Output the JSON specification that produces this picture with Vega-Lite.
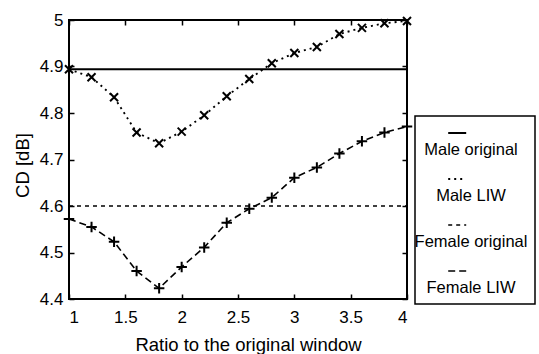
{
  "$schema": "https://vega.github.io/schema/vega-lite/v6.json",
  "width": 338,
  "height": 279,
  "autosize": {"type": "none"},
  "padding": {"left": 69, "top": 20, "right": 132, "bottom": 55},
  "background": "white",
  "config": {
    "font": "Liberation Sans",
    "view": {"stroke": "black", "strokeWidth": 2},
    "axis": {
      "grid": false,
      "domain": false,
      "tickColor": "black",
      "tickSize": -5,
      "tickWidth": 1.5,
      "labelColor": "black",
      "labelFont": "Liberation Sans",
      "labelFontSize": 17,
      "titleFont": "Liberation Sans",
      "titleFontSize": 18.5,
      "titleFontWeight": "normal",
      "titleColor": "black"
    }
  },
  "data": {
    "values": [
      {"series": "Male original", "ratio": 1.0, "cd": 4.894},
      {"series": "Male original", "ratio": 4.0, "cd": 4.894},
      {"series": "Female original", "ratio": 1.0, "cd": 4.6},
      {"series": "Female original", "ratio": 4.0, "cd": 4.6},
      {"series": "Male LIW", "ratio": 1.0, "cd": 4.894},
      {"series": "Male LIW", "ratio": 1.2, "cd": 4.877},
      {"series": "Male LIW", "ratio": 1.4, "cd": 4.834},
      {"series": "Male LIW", "ratio": 1.6, "cd": 4.758},
      {"series": "Male LIW", "ratio": 1.8, "cd": 4.735},
      {"series": "Male LIW", "ratio": 2.0, "cd": 4.760},
      {"series": "Male LIW", "ratio": 2.2, "cd": 4.795},
      {"series": "Male LIW", "ratio": 2.4, "cd": 4.836},
      {"series": "Male LIW", "ratio": 2.6, "cd": 4.873},
      {"series": "Male LIW", "ratio": 2.8, "cd": 4.907},
      {"series": "Male LIW", "ratio": 3.0, "cd": 4.929},
      {"series": "Male LIW", "ratio": 3.2, "cd": 4.942},
      {"series": "Male LIW", "ratio": 3.4, "cd": 4.970},
      {"series": "Male LIW", "ratio": 3.6, "cd": 4.983},
      {"series": "Male LIW", "ratio": 3.8, "cd": 4.993},
      {"series": "Male LIW", "ratio": 4.0, "cd": 4.998},
      {"series": "Female LIW", "ratio": 1.0, "cd": 4.572},
      {"series": "Female LIW", "ratio": 1.2, "cd": 4.555},
      {"series": "Female LIW", "ratio": 1.4, "cd": 4.523},
      {"series": "Female LIW", "ratio": 1.6, "cd": 4.460},
      {"series": "Female LIW", "ratio": 1.8, "cd": 4.423},
      {"series": "Female LIW", "ratio": 2.0, "cd": 4.469},
      {"series": "Female LIW", "ratio": 2.2, "cd": 4.511},
      {"series": "Female LIW", "ratio": 2.4, "cd": 4.564},
      {"series": "Female LIW", "ratio": 2.6, "cd": 4.594},
      {"series": "Female LIW", "ratio": 2.8, "cd": 4.618},
      {"series": "Female LIW", "ratio": 3.0, "cd": 4.661},
      {"series": "Female LIW", "ratio": 3.2, "cd": 4.683},
      {"series": "Female LIW", "ratio": 3.4, "cd": 4.713},
      {"series": "Female LIW", "ratio": 3.6, "cd": 4.739},
      {"series": "Female LIW", "ratio": 3.8, "cd": 4.758},
      {"series": "Female LIW", "ratio": 4.0, "cd": 4.771}
    ]
  },
  "layer": [
    {
      "mark": {"type": "line", "color": "black"},
      "encoding": {
        "x": {
          "field": "ratio",
          "type": "quantitative",
          "scale": {"domain": [1, 4], "nice": false, "zero": false},
          "axis": {
            "orient": "bottom",
            "values": [1, 1.5, 2, 2.5, 3, 3.5, 4],
            "format": "~g",
            "labelPadding": 15,
            "title": "Ratio to the original window",
            "titlePadding": 10,
            "titleX": 179
          }
        },
        "y": {
          "field": "cd",
          "type": "quantitative",
          "scale": {"domain": [4.4, 5], "nice": false, "zero": false},
          "axis": {
            "orient": "left",
            "values": [4.4, 4.5, 4.6, 4.7, 4.8, 4.9, 5],
            "format": "~g",
            "labelPadding": 11,
            "title": "CD [dB]",
            "titlePadding": 7,
            "titleY": 145
          }
        },
        "strokeDash": {
          "field": "series",
          "type": "nominal",
          "scale": {
            "domain": ["Male original", "Male LIW", "Female original", "Female LIW"],
            "range": [[1, 0], [2, 4], [4, 4], [7, 4]]
          },
          "legend": {
            "orient": "none",
            "legendX": 346,
            "legendY": 96,
            "title": null,
            "strokeColor": "black",
            "padding": 7,
            "symbolType": "M1.8,0H3.8",
            "symbolSize": 324,
            "symbolStrokeWidth": 1.8,
            "symbolStrokeColor": "black",
            "labelFont": "Liberation Sans",
            "labelFontSize": 16.5,
            "labelColor": "black",
            "labelAlign": "center",
            "labelOffset": 0,
            "rowPadding": 10,
            "encoding": {
              "labels": {
                "dy": {"value": 17},
                "dx": {"value": 29}
              },
              "legend": {
                "strokeWidth": {"value": 1.5}
              }
            }
          }
        },
        "strokeWidth": {
          "field": "series",
          "type": "nominal",
          "scale": {
            "domain": ["Male original", "Male LIW", "Female original", "Female LIW"],
            "range": [2, 1.6, 1.5, 1.6]
          },
          "legend": null
        }
      }
    },
    {
      "transform": [{"filter": "datum.series == 'Male LIW'"}],
      "mark": {"type": "point", "shape": "M-1,-1L1,1M-1,1L1,-1", "size": 64, "filled": false, "color": "black", "opacity": 1, "strokeWidth": 2},
      "encoding": {
        "x": {
          "field": "ratio",
          "type": "quantitative",
          "axis": {"orient": "top", "values": [1, 1.5, 2, 2.5, 3, 3.5, 4], "labels": false, "title": null}
        },
        "y": {
          "field": "cd",
          "type": "quantitative",
          "axis": {"orient": "right", "values": [4.4, 4.5, 4.6, 4.7, 4.8, 4.9, 5], "labels": false, "title": null}
        }
      }
    },
    {
      "transform": [{"filter": "datum.series == 'Female LIW'"}],
      "mark": {"type": "point", "shape": "M-1,0H1M0,-1V1", "size": 110, "filled": false, "color": "black", "opacity": 1, "strokeWidth": 2},
      "encoding": {
        "x": {"field": "ratio", "type": "quantitative", "axis": null},
        "y": {"field": "cd", "type": "quantitative", "axis": null}
      }
    }
  ]
}
